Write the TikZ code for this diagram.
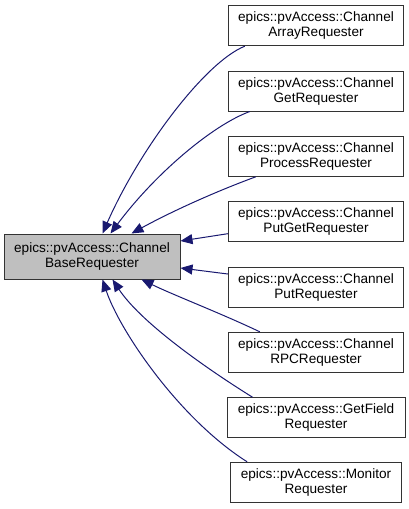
\documentclass[tikz,border=0pt]{standalone}
\usepackage{fontspec}
\setmainfont{Liberation Sans}
\usetikzlibrary{arrows.meta,calc}
\definecolor{edgeblue}{HTML}{191970}
\definecolor{basegray}{HTML}{BFBFBF}
\begin{document}
\begin{tikzpicture}[x=1pt,y=-1pt,
  box/.style={draw=black!80,line width=1pt,rectangle,inner sep=0pt,align=center,
    font=\fontsize{13.6}{15}\selectfont,minimum height=40pt},
  edge/.style={draw=edgeblue,line width=1pt,-{Triangle[length=12pt,width=10pt]}}]
\useasboundingbox (0,0) rectangle (409,509);
\node[box,fill=basegray,minimum width=176pt,minimum height=45pt] (base) at (92,256.5) {epics::pvAccess::Channel\\BaseRequester};
\node[box,minimum width=175.4pt] (n1) at (316,25.7) {epics::pvAccess::Channel\\ArrayRequester};
\node[box,minimum width=175.4pt] (n2) at (316,91) {epics::pvAccess::Channel\\GetRequester};
\node[box,minimum width=175.4pt] (n3) at (316,156.3) {epics::pvAccess::Channel\\ProcessRequester};
\node[box,minimum width=175.4pt] (n4) at (316,221.7) {epics::pvAccess::Channel\\PutGetRequester};
\node[box,minimum width=175.4pt] (n5) at (316,287) {epics::pvAccess::Channel\\PutRequester};
\node[box,minimum width=175.4pt] (n6) at (316,352.3) {epics::pvAccess::Channel\\RPCRequester};
\node[box,minimum width=178pt] (n7) at (316,417.7) {epics::pvAccess::GetField\\Requester};
\node[box,minimum width=170.7pt] (n8) at (316,482.3) {epics::pvAccess::Monitor\\Requester};
\draw[edge] ($(n1.south west)+(17,0)$) .. controls +(-40,16) and +(37,-84) .. ($(base.north west)+(99,0)$);
\draw[edge] ($(n2.south west)+(22,0)$) .. controls +(-38,14) and +(44,-59) .. ($(base.north west)+(107,0)$);
\draw[edge] ($(n3.south west)+(28,0)$) .. controls +(-41,15) and +(38,-21) .. ($(base.north west)+(128,0)$);
\draw[edge] ($(n4.west)+(0,12)$) -- ($(base.east)+(0,-15.5)$);
\draw[edge] ($(n5.west)+(0,-13)$) -- ($(base.east)+(0,11.5)$);
\draw[edge] ($(n6.north west)+(32,0)$) .. controls +(-40,-19) and +(33,16) .. ($(base.south west)+(138,0)$);
\draw[edge] ($(n7.north west)+(26,0)$) .. controls +(-53,-33) and +(27,41) .. ($(base.south west)+(109,0)$);
\draw[edge] ($(n8.north west)+(17,0)$) .. controls +(-68,-43) and +(17,51) .. ($(base.south west)+(99,0)$);
\end{tikzpicture}
\end{document}
